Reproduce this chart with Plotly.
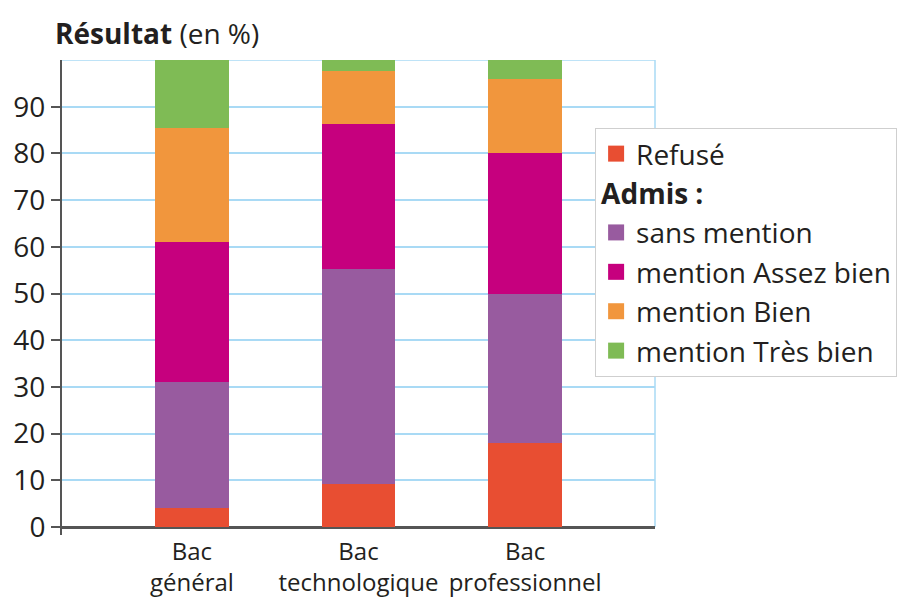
import plotly.graph_objects as go

categories = ["Bac<br>général", "Bac<br>technologique", "Bac<br>professionnel"]
series_names = ["Refusé", "sans mention", "mention Assez bien", "mention Bien", "mention Très bien"]
refuse = [4, 9.3, 18]
sans_mention = [27, 46, 32]
assez_bien = [30, 31, 30]
bien = [24.5, 11.4, 16]
tres_bien = [14.5, 2.3, 4]
y_tick_vals = [0, 10, 20, 30, 40, 50, 60, 70, 80, 90]

series_values = [refuse, sans_mention, assez_bien, bien, tres_bien]
colors = ["#e84e32", "#985b9f", "#c6007e", "#f1963d", "#7fbb55"]
groups = ["refuse", "admis", "admis", "admis", "admis"]

TXT = "#231f20"
AXIS = "#555555"
GRID = "#a9daf5"
FONT = "Open Sans"

fig = go.Figure()
for name, vals, col in zip(series_names, series_values, colors):
    fig.add_trace(go.Bar(x=categories, y=vals, name=name, marker=dict(color=col, line=dict(width=0)),
                         width=0.44, showlegend=False))

# legend entries (larger square swatches)
for i, (name, col, g) in enumerate(zip(series_names, colors, groups)):
    kw = {}
    if i == 1:
        kw["legendgrouptitle"] = dict(text="<b>Admis :</b>", font=dict(size=28, color=TXT, family=FONT))
    fig.add_trace(go.Scatter(x=[None], y=[None], mode="markers", name=name, legendgroup=g,
                             marker=dict(symbol="square", size=16, color=col), **kw))

fig.update_layout(
    width=902, height=593,
    margin=dict(l=54, r=255, t=52, b=66, autoexpand=False),
    barmode="stack",
    plot_bgcolor="white", paper_bgcolor="white",
    font=dict(family=FONT, color=TXT),
    xaxis=dict(range=[-0.78, 2.78], showline=False, showgrid=False, ticks="", tickangle=0,
               tickfont=dict(size=24, color=TXT, family=FONT), fixedrange=True, automargin=False),
    yaxis=dict(range=[-1.71, 100], tickvals=y_tick_vals, showgrid=True, gridcolor=GRID, gridwidth=1.5,
               showline=True, linecolor=AXIS, linewidth=2, ticks="outside", ticklen=9, tickwidth=2,
               tickcolor=AXIS, tickfont=dict(size=28, color=TXT), automargin=False,
               zeroline=True, zerolinecolor=AXIS, zerolinewidth=2.5),
    legend=dict(x=0.899, y=0.857, xanchor="left", yanchor="top", bgcolor="white",
                bordercolor="#cfcfcf", borderwidth=1, font=dict(size=28, color=TXT, family=FONT),
                traceorder="grouped", tracegroupgap=0, itemclick=False),
    annotations=[dict(text="<b>Résultat</b> (en %)", xref="paper", yref="paper", x=-0.015, y=1,
                      xanchor="left", yanchor="bottom", yshift=6, showarrow=False,
                      font=dict(size=28, color=TXT, family=FONT))],
    shapes=[
        dict(type="line", xref="paper", yref="y", x0=0, x1=1, y0=100, y1=100,
             line=dict(color=GRID, width=1.5), layer="below"),
        dict(type="line", xref="paper", yref="y", x0=1, x1=1, y0=0, y1=100,
             line=dict(color=GRID, width=1.5), layer="below"),
    ],
)

fig.write_html("out.html")
